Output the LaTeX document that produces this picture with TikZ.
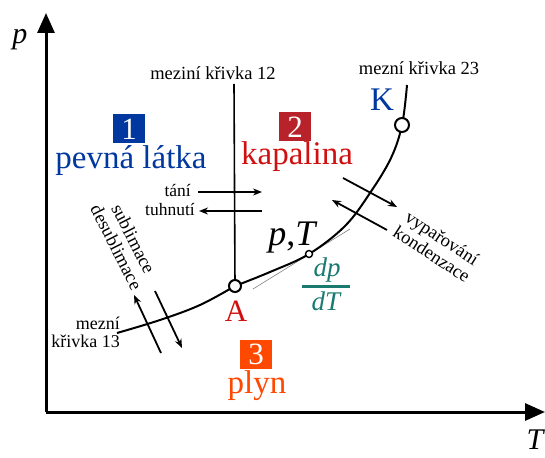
\documentclass[tikz,border=0pt]{standalone}
\usepackage{fontspec}
\setmainfont{Liberation Serif}
\usetikzlibrary{arrows.meta}
\definecolor{cblue}{HTML}{0038A0}
\definecolor{cred}{HTML}{D01010}
\definecolor{cboxred}{HTML}{B8222A}
\definecolor{corange}{HTML}{FF4800}
\definecolor{cteal}{HTML}{1A7A70}
\tikzset{
  axis/.style={line width=3pt,-{Triangle[length=20pt,width=17pt]}},
  curve/.style={line width=2pt},
  procarrow/.style={line width=1.8pt,-{Stealth[length=9pt,width=7pt]}},
  smalltext/.style={font=\fontsize{18.5}{19}\selectfont,inner sep=0pt},
  numbox/.style={text=white,minimum width=32pt,minimum height=29pt,inner sep=0pt,font=\fontsize{31}{31}\selectfont},
  phase/.style={inner sep=0pt,font=\fontsize{33}{33}\selectfont},
  point/.style={circle,draw,line width=2pt,fill=white,inner sep=0pt,minimum size=12pt}
}
\begin{document}
\begin{tikzpicture}[x=1pt,y=-1pt]
\useasboundingbox (0,0) rectangle (545,457);
% axes
\coordinate (O) at (46,412);
\coordinate (Ytip) at (46,13);
\coordinate (Xtip) at (545,412);
\draw[axis] (O) -- (Ytip);
\draw[axis] (O) -- (Xtip);
\node[inner sep=0pt,font=\fontsize{30}{30}\selectfont\itshape] (plab) at (20,40) {p};
\node[inner sep=0pt,font=\fontsize{30}{30}\selectfont\itshape] (tlab) at (535,440) {T};
% points
\coordinate (A) at (235,286);
\coordinate (K) at (402,125);
\coordinate (PT) at (309,254);
\coordinate (top12) at (234,84);
\coordinate (top23) at (407,85);
\coordinate (start13) at (117,333);
% tangent
\coordinate (tan1) at (253,289);
\coordinate (tan2) at (350,229);
\draw[gray,line width=0.6pt] (tan1) -- (tan2);
% curves
\draw[line width=1.6pt] (top12) -- (A);
\draw[curve] plot[smooth,tension=0.6] coordinates {(start13) (160,320) (200,305) (A)};
\draw[curve] plot[smooth,tension=0.6] coordinates {(A) (270,272) (PT) (345,226) (370,193) (391,158) (K) (407,85)};
\node[point] (Ap) at (A) {};
\node[point,minimum size=14pt] (Kp) at (K) {};
\node[circle,draw,line width=1.4pt,fill=white,inner sep=0pt,minimum size=7pt] (PTp) at (PT) {};
% labels of curves
\node[smalltext] (l12) at (213,73) {meziní křivka 12};
\node[smalltext] (l23) at (419,68) {mezní křivka 23};
\node[smalltext,align=right,anchor=east,font=\fontsize{18}{18}\selectfont] (l13) at (120,332) {mezní\\křivka 13};
% K, A
\node[text=cblue,inner sep=0pt,font=\fontsize{33}{33}\selectfont] (Klab) at (382,100) {K};
\node[text=cred,inner sep=0pt,font=\fontsize{31}{31}\selectfont] (Alab) at (236,311) {A};
% p,T and dp/dT
\node[inner sep=0pt,font=\fontsize{36}{36}\selectfont] (ptlab) at (293,238) {\textit{p},\textit{T}};
\node[text=cteal,inner sep=0pt,font=\fontsize{27}{27}\selectfont\itshape] (dp) at (327,270) {dp};
\node[text=cteal,inner sep=0pt,font=\fontsize{27}{27}\selectfont\itshape] (dT) at (326,301) {dT};
\coordinate (bar1) at (302,286);
\coordinate (bar2) at (350,286);
\draw[cteal,line width=3pt] (bar1) -- (bar2);
% phases
\node[numbox,fill=cblue] (b1) at (129,129) {1};
\node[phase,text=cblue] (pl) at (131,161) {pevná látka};
\node[numbox,fill=cboxred] (b2) at (295,127) {2};
\node[phase,text=cred] (kap) at (297,157) {kapalina};
\node[numbox,fill=corange] (b3) at (256,354) {3};
\node[phase,text=corange] (ply) at (257,386) {plyn};
% tani / tuhnuti
\node[smalltext,anchor=east,font=\fontsize{17.5}{18}\selectfont] (tani) at (191,191) {tání};
\node[smalltext,anchor=east,font=\fontsize{17.5}{18}\selectfont] (tuh) at (195,210) {tuhnutí};
\coordinate (ta1) at (198,192);
\coordinate (ta2) at (262,192);
\coordinate (tu1) at (262,211);
\coordinate (tu2) at (199,211);
\draw[procarrow] (ta1) -- (ta2);
\draw[procarrow] (tu1) -- (tu2);
% sublimace
\node[smalltext,align=center,rotate=-63] (subl) at (125,243) {sublimace\\desublimace};
\coordinate (sa1) at (161,353);
\coordinate (sa2) at (134,295);
\coordinate (sb1) at (155,291);
\coordinate (sb2) at (182,348);
\draw[procarrow] (sa1) -- (sa2);
\draw[procarrow] (sb1) -- (sb2);
% vyparovani
\node[smalltext,align=center,rotate=-33] (vyp) at (437,246) {vypařování\\kondenzace};
\coordinate (va1) at (343,178);
\coordinate (va2) at (397,207);
\coordinate (vb1) at (387,230);
\coordinate (vb2) at (332,200);
\draw[procarrow] (va1) -- (va2);
\draw[procarrow] (vb1) -- (vb2);
\end{tikzpicture}
\end{document}
